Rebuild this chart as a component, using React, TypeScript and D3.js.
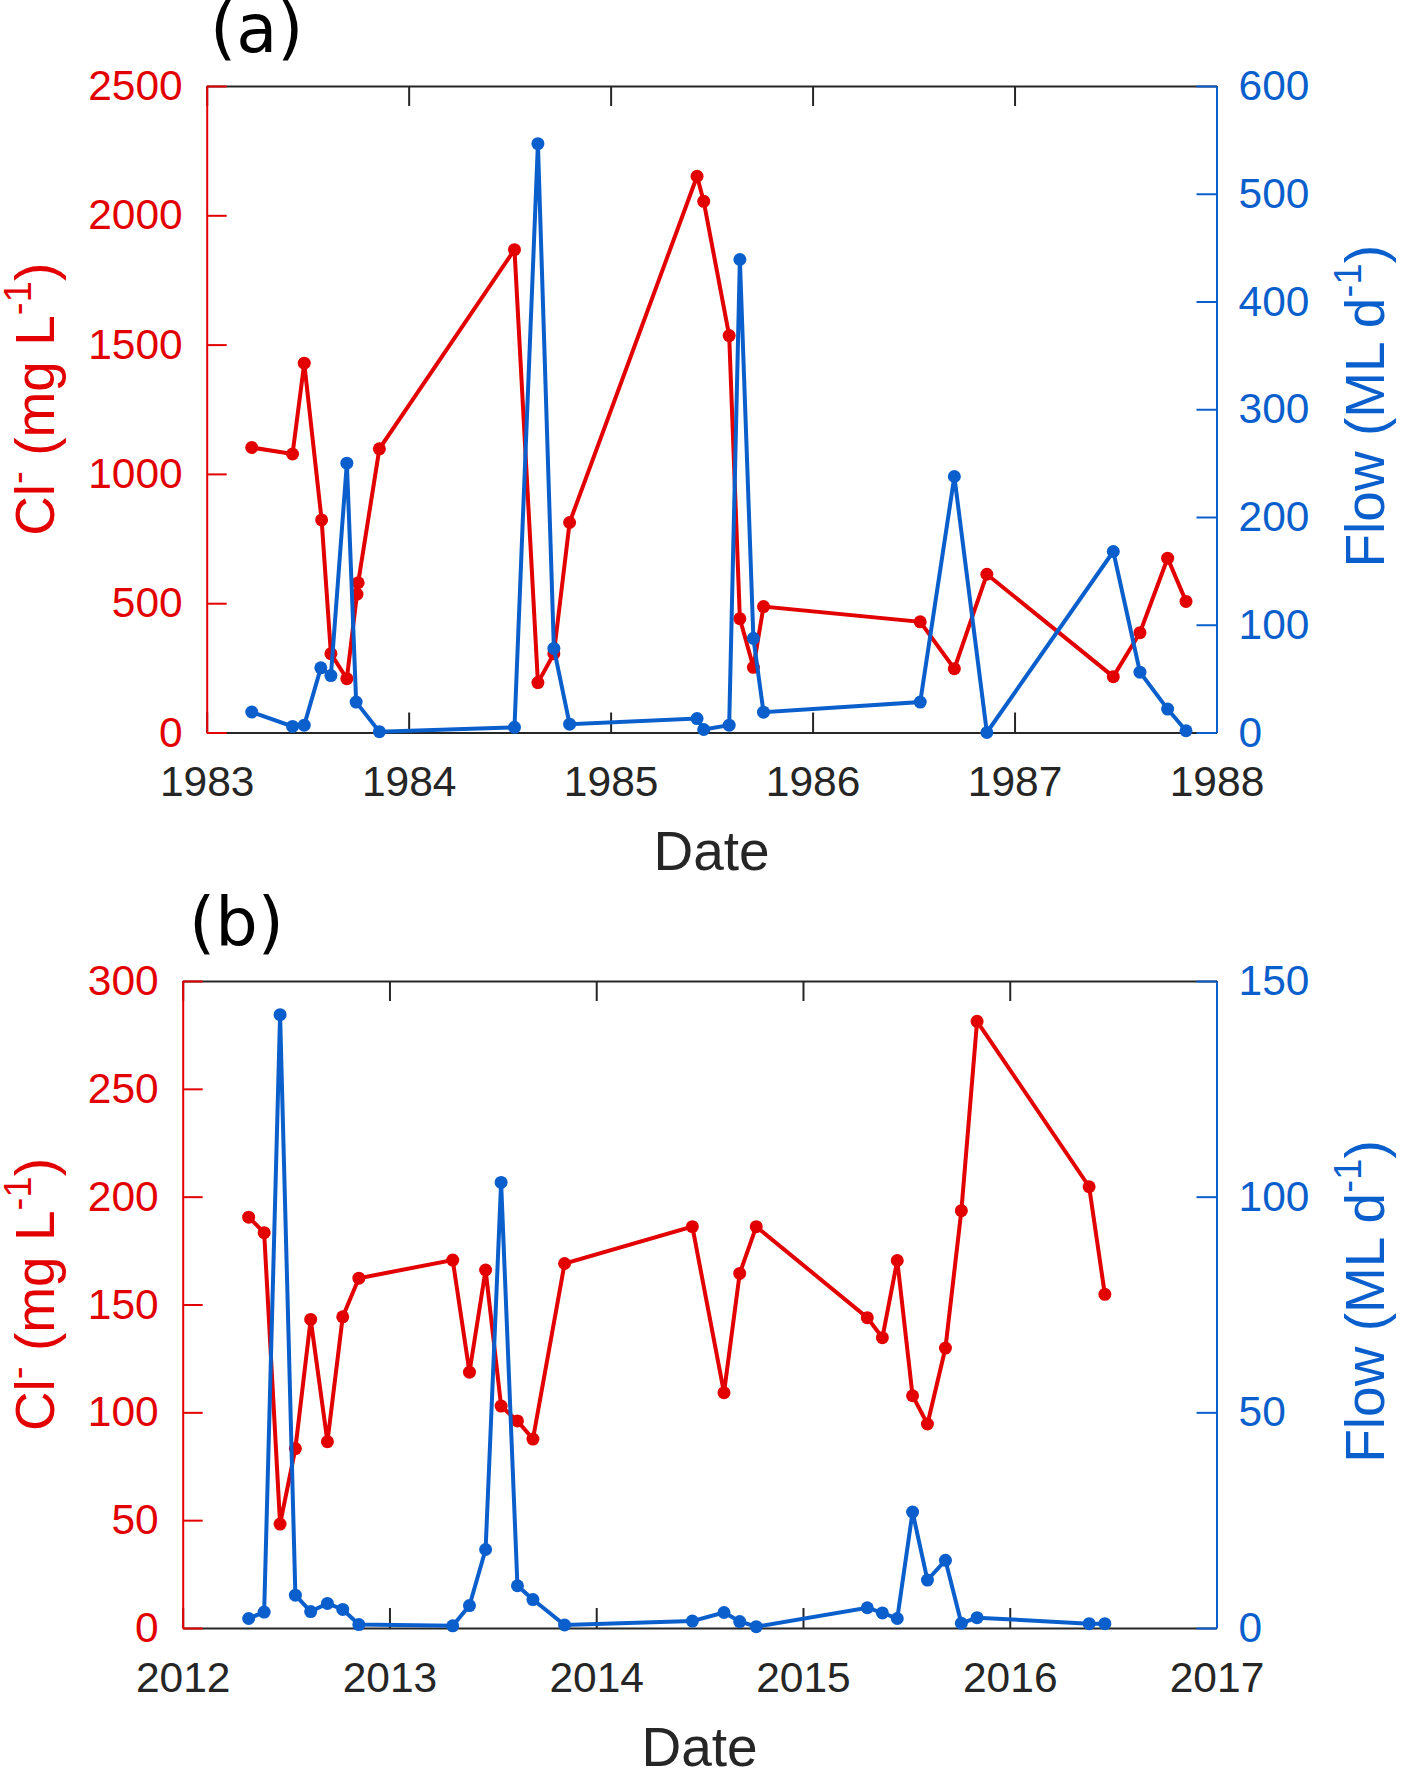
import React, { useRef, useEffect } from 'react'
import * as d3 from 'd3'

// Panel (a) chloride samples, 1983-1988 (decimal years, mg/L)
const clDatesA = [
  1983.223, 1983.425, 1983.483, 1983.569, 1983.615, 1983.694, 1983.744, 1983.75, 1983.855, 1984.524, 1984.64, 1984.719,
  1984.797, 1985.428, 1985.461, 1985.587, 1985.64, 1985.707, 1985.757, 1986.533, 1986.702, 1986.863, 1987.489,
  1987.621, 1987.758, 1987.849,
]
const clValuesA = [
  1102, 1077, 1428, 822, 305, 208, 535, 579, 1097, 1867, 193, 305, 812, 2151, 2054, 1535, 440, 252, 487, 428, 247, 612,
  216, 386, 674, 507,
]

// Panel (a) flow, ML/d
const flowDatesA = [
  1983.223, 1983.425, 1983.483, 1983.565, 1983.615, 1983.694, 1983.74, 1983.855, 1984.524, 1984.64, 1984.719, 1984.797,
  1985.428, 1985.461, 1985.587, 1985.64, 1985.707, 1985.757, 1986.533, 1986.702, 1986.863, 1987.489, 1987.621,
  1987.758, 1987.849,
]
const flowValuesA = [
  19, 5.6, 6.8, 60, 52.8, 250, 28.2, 0.8, 4.8, 546.5, 78, 7.7, 12.9, 2.8, 6.8, 439, 87.4, 18.9, 28.2, 237.6, 0, 168, 56,
  21.7, 1.6,
]

// Panel (b) shares one set of sampling dates, 2012-2017
const datesB = [
  2012.319, 2012.394, 2012.471, 2012.545, 2012.619, 2012.7, 2012.774, 2012.852, 2013.306, 2013.387, 2013.465, 2013.54,
  2013.619, 2013.694, 2013.847, 2014.465, 2014.618, 2014.694, 2014.774, 2015.311, 2015.384, 2015.456, 2015.53,
  2015.602, 2015.689, 2015.766, 2015.842, 2016.384, 2016.46,
]
const clValuesB = [
  190.5, 183.3, 48.2, 83.2, 143.1, 86.4, 144.3, 162.2, 170.6, 118.6, 166, 102.9, 96, 87.6, 169, 186.1, 109.1, 164.4,
  186.1, 143.9, 134.6, 170.4, 107.7, 94.6, 129.8, 193.5, 281.3, 204.6, 154.7,
]
const flowValuesB = [
  2.2, 3.7, 142.2, 7.6, 3.8, 5.7, 4.3, 0.8, 0.5, 5.2, 18.2, 103.3, 9.8, 6.6, 0.7, 1.6, 3.6, 1.5, 0.3, 4.7, 3.5, 2.2,
  26.9, 11.1, 15.7, 1.1, 2.4, 1.0, 1.0,
]

const RED = '#e20000'
const BLUE = '#0a5fcc'
const DARK = '#262626'
const FONT = '"Liberation Sans", Arial, Helvetica, sans-serif'

const WIDTH = 1415
const HEIGHT = 1783

const panels = [
  {
    tag: '(a)',
    years: [1983, 1988],
    clMax: 2500,
    clStep: 500,
    flowMax: 600,
    flowStep: 100,
    clDates: clDatesA,
    clValues: clValuesA,
    flowDates: flowDatesA,
    flowValues: flowValuesA,
    box: { left: 206.7, right: 1216.5, top: 86, bottom: 732.5 },
    tagPos: [210, 52],
  },
  {
    tag: '(b)',
    years: [2012, 2017],
    clMax: 300,
    clStep: 50,
    flowMax: 150,
    flowStep: 50,
    clDates: datesB,
    clValues: clValuesB,
    flowDates: datesB,
    flowValues: flowValuesB,
    box: { left: 182.7, right: 1216.5, top: 981, bottom: 1628 },
    tagPos: [189, 946],
  },
]

// rotated axis title with MATLAB style superscripts
function axisTitle(
  g: d3.Selection<SVGGElement, unknown, null, undefined>,
  parts: [string, boolean][],
  x: number,
  y: number,
  color: string,
) {
  const size = 55
  const shift = size * 0.42
  const text = g
    .append('text')
    .attr('transform', `translate(${x}, ${y}) rotate(-90)`)
    .attr('text-anchor', 'middle')
    .style('font-family', FONT)
    .style('font-size', `${size}px`)
    .style('white-space', 'pre')
    .attr('fill', color)

  let raised = false
  parts.forEach(([str, sup]) => {
    const t = text.append('tspan').text(str)
    if (sup && !raised) {
      t.attr('dy', -shift).style('font-size', `${size * 0.7}px`)
      raised = true
    } else if (sup) {
      t.style('font-size', `${size * 0.7}px`)
    } else if (raised) {
      t.attr('dy', shift)
      raised = false
    }
  })
}

const ChlorideFlowChart: React.FC = () => {
  const svgRef = useRef<SVGSVGElement>(null)

  useEffect(() => {
    if (!svgRef.current) return
    const svg = d3.select(svgRef.current)
    svg.selectAll('*').remove()

    panels.forEach(p => {
      const { left, right, top, bottom } = p.box
      const g = svg.append('g')

      const x = d3.scaleLinear().domain(p.years).range([left, right])
      const yL = d3.scaleLinear().domain([0, p.clMax]).range([bottom, top])
      const yR = d3.scaleLinear().domain([0, p.flowMax]).range([bottom, top])

      const xTicks = d3.range(p.years[0], p.years[1] + 1)
      const clTicks = d3.range(0, p.clMax + p.clStep / 2, p.clStep)
      const flowTicks = d3.range(0, p.flowMax + p.flowStep / 2, p.flowStep)
      const plain = d3.format('d')

      const styleAxis = (sel: d3.Selection<SVGGElement, unknown, null, undefined>, color: string) => {
        sel.attr('font-size', null).attr('font-family', null)
        sel.select('.domain').attr('stroke', color).attr('stroke-width', 2)
        sel.selectAll('.tick line').attr('stroke', color).attr('stroke-width', 2)
        sel
          .selectAll('.tick text')
          .attr('fill', color)
          .style('font-family', FONT)
          .style('font-size', '42.5px')
      }

      // top and bottom (dark)
      const topAxis = g
        .append('g')
        .attr('transform', `translate(0, ${top})`)
        .call(
          d3
            .axisTop(x)
            .tickValues(xTicks)
            .tickSizeInner(-20)
            .tickSizeOuter(0)
            .tickFormat(() => ''),
        )
      styleAxis(topAxis, DARK)

      const bottomAxis = g
        .append('g')
        .attr('transform', `translate(0, ${bottom})`)
        .call(
          d3
            .axisBottom(x)
            .tickValues(xTicks)
            .tickSizeInner(-20)
            .tickSizeOuter(0)
            .tickPadding(33.5)
            .tickFormat(plain as any),
        )
      styleAxis(bottomAxis, DARK)

      // left (chloride, red)
      const leftAxis = g
        .append('g')
        .attr('transform', `translate(${left}, 0)`)
        .call(
          d3
            .axisLeft(yL)
            .tickValues(clTicks)
            .tickSizeInner(-20)
            .tickSizeOuter(0)
            .tickPadding(24)
            .tickFormat(plain as any),
        )
      styleAxis(leftAxis, RED)

      // right (flow, blue)
      const rightAxis = g
        .append('g')
        .attr('transform', `translate(${right}, 0)`)
        .call(
          d3
            .axisRight(yR)
            .tickValues(flowTicks)
            .tickSizeInner(-20)
            .tickSizeOuter(0)
            .tickPadding(22)
            .tickFormat(plain as any),
        )
      styleAxis(rightAxis, BLUE)

      // series
      const series = [
        { dates: p.clDates, values: p.clValues, y: yL, color: RED },
        { dates: p.flowDates, values: p.flowValues, y: yR, color: BLUE },
      ]

      series.forEach(s => {
        const line = d3
          .line<number>()
          .x((_d, i) => x(s.dates[i]))
          .y(d => s.y(d))

        g.append('path')
          .datum(s.values)
          .attr('d', line)
          .attr('fill', 'none')
          .attr('stroke', s.color)
          .attr('stroke-width', 4)

        g.append('g')
          .selectAll('circle')
          .data(s.values)
          .enter()
          .append('circle')
          .attr('cx', (_d, i) => x(s.dates[i]))
          .attr('cy', d => s.y(d))
          .attr('r', 6.5)
          .attr('fill', s.color)
      })

      // axis titles
      const midY = (top + bottom) / 2
      axisTitle(
        g,
        [
          ['Cl', false],
          ['-', true],
          [' (mg L', false],
          ['-1', true],
          [')', false],
        ],
        54,
        midY - 10,
        RED,
      )
      axisTitle(
        g,
        [
          ['Flow (ML d', false],
          ['-1', true],
          [')', false],
        ],
        1384,
        midY - 3,
        BLUE,
      )

      g.append('text')
        .attr('x', (left + right) / 2)
        .attr('y', bottom + 137.5)
        .attr('text-anchor', 'middle')
        .style('font-family', FONT)
        .style('font-size', '55px')
        .attr('fill', DARK)
        .text('Date')

      g.append('text')
        .attr('x', p.tagPos[0])
        .attr('y', p.tagPos[1])
        .style('font-family', '"DejaVu Sans", Verdana, sans-serif')
        .style('font-size', '67px')
        .attr('fill', '#000')
        .text(p.tag)
    })
  }, [])

  return (
    <svg
      ref={svgRef}
      width={WIDTH}
      height={HEIGHT}
      style={{ position: 'absolute', left: 0, top: 0, background: '#fff' }}
    />
  )
}

export default function App() {
  return <ChlorideFlowChart />
}
